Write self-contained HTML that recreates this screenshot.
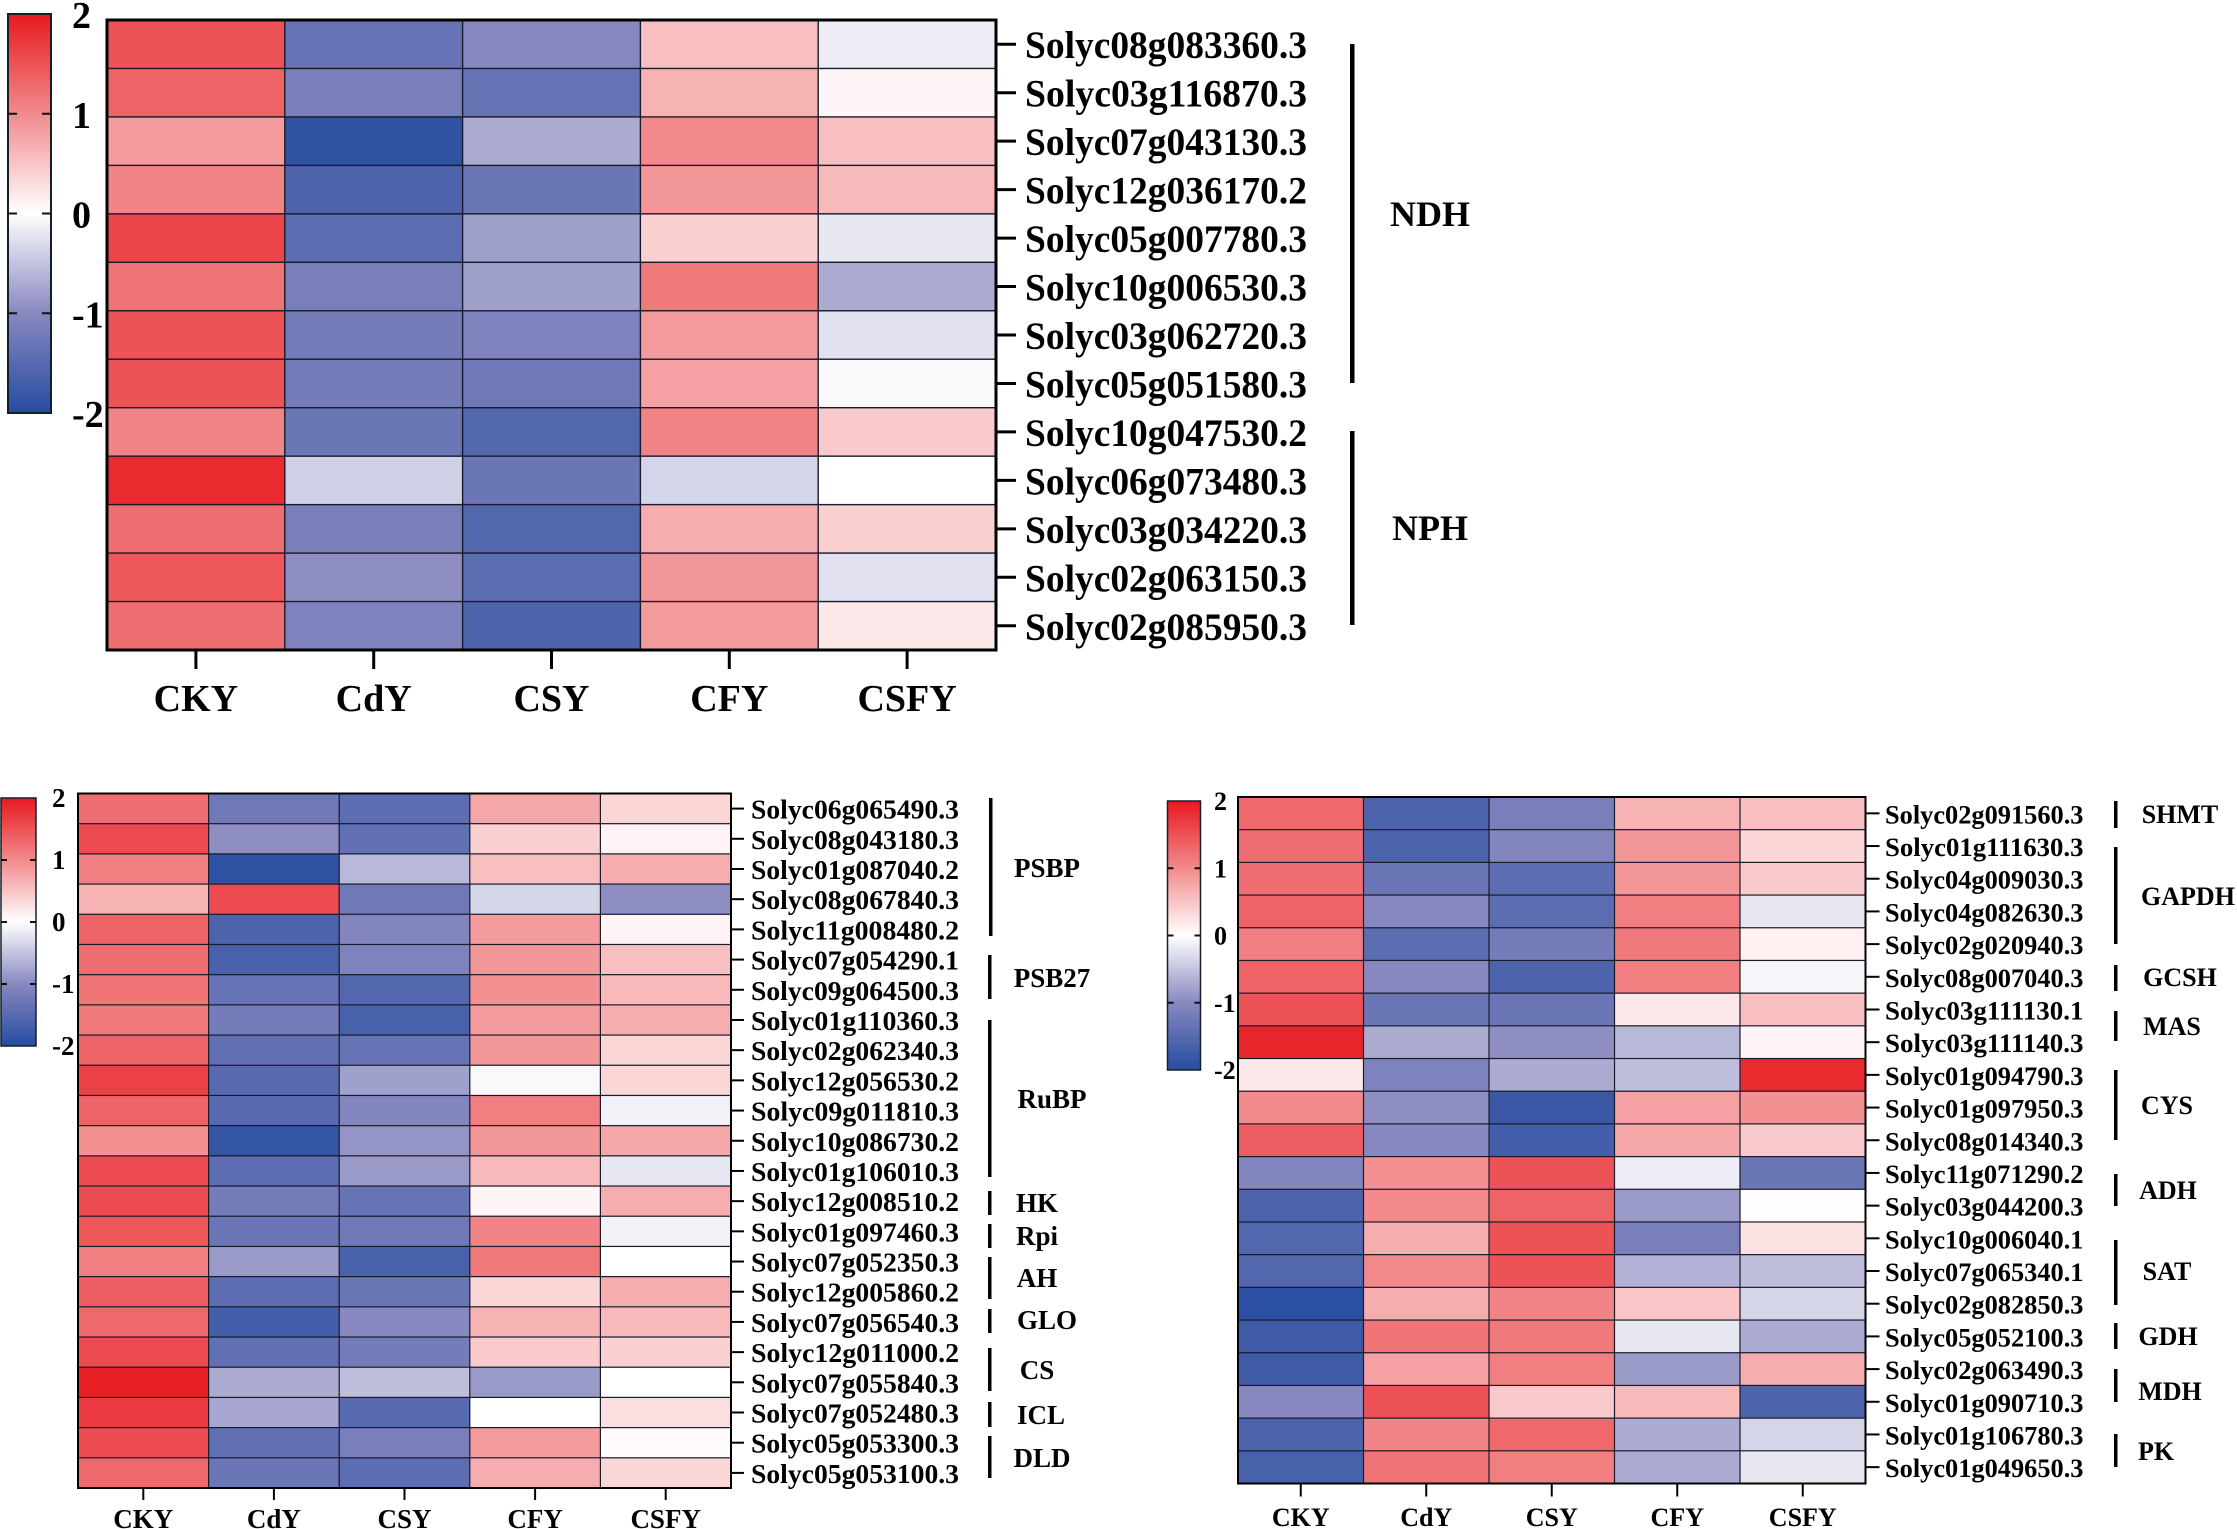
<!DOCTYPE html>
<html lang="en">
<head>
<meta charset="utf-8">
<title>Gene expression heatmaps</title>
<style>
html,body{margin:0;padding:0;background:#fff;}
svg{display:block;}
text{font-family:"Liberation Serif",serif;font-weight:bold;fill:#000;}
</style>
</head>
<body>
<svg id="figure" xmlns="http://www.w3.org/2000/svg" width="2237" height="1529" viewBox="0 0 2237 1529">
  <rect x="0" y="0" width="2237" height="1529" fill="#fff"/>
  <defs id="defs"></defs>

  <g fill="#000">
    <rect x="1350" y="44" width="4.5" height="339"/>
    <rect x="1350" y="431" width="4.5" height="194"/>
    <text x="1430" y="226" font-size="36" text-anchor="middle">NDH</text>
    <text x="1430" y="540" font-size="36" text-anchor="middle">NPH</text>
  </g>

  <g fill="#000" font-size="27">
    <rect x="989" y="798" width="3.5" height="138"/>
    <rect x="988" y="955" width="3.5" height="44"/>
    <rect x="988" y="1020" width="3.5" height="157"/>
    <rect x="988" y="1191" width="3.5" height="24"/>
    <rect x="988" y="1224" width="3.5" height="24"/>
    <rect x="988" y="1257" width="3.5" height="42"/>
    <rect x="988" y="1309" width="3.5" height="24"/>
    <rect x="988" y="1348" width="3.5" height="43"/>
    <rect x="988" y="1402" width="3.5" height="25"/>
    <rect x="988" y="1436" width="3.5" height="42"/>
    <text x="1047" y="877" font-size="27" text-anchor="middle">PSBP</text>
    <text x="1052" y="987" font-size="27" text-anchor="middle">PSB27</text>
    <text x="1052" y="1108" font-size="27" text-anchor="middle">RuBP</text>
    <text x="1037" y="1212" font-size="27" text-anchor="middle">HK</text>
    <text x="1037" y="1245" font-size="27" text-anchor="middle">Rpi</text>
    <text x="1037" y="1287" font-size="27" text-anchor="middle">AH</text>
    <text x="1047" y="1329" font-size="27" text-anchor="middle">GLO</text>
    <text x="1037" y="1379" font-size="27" text-anchor="middle">CS</text>
    <text x="1041" y="1424" font-size="27" text-anchor="middle">ICL</text>
    <text x="1042" y="1467" font-size="27" text-anchor="middle">DLD</text>
  </g>

  <g fill="#000">
    <rect x="2114" y="801" width="3.5" height="27"/>
    <rect x="2114" y="847" width="3.5" height="97"/>
    <rect x="2114" y="965" width="3.5" height="26"/>
    <rect x="2114" y="1011" width="3.5" height="30"/>
    <rect x="2114" y="1070" width="3.5" height="70"/>
    <rect x="2114" y="1174" width="3.5" height="32"/>
    <rect x="2114" y="1240" width="3.5" height="65"/>
    <rect x="2114" y="1323" width="3.5" height="26"/>
    <rect x="2114" y="1369" width="3.5" height="33"/>
    <rect x="2114" y="1434" width="3.5" height="33"/>
    <text x="2180" y="823" font-size="26" text-anchor="middle">SHMT</text>
    <text x="2188" y="905" font-size="26" text-anchor="middle">GAPDH</text>
    <text x="2180" y="986" font-size="26" text-anchor="middle">GCSH</text>
    <text x="2172" y="1035" font-size="26" text-anchor="middle">MAS</text>
    <text x="2167" y="1114" font-size="26" text-anchor="middle">CYS</text>
    <text x="2168" y="1199" font-size="26" text-anchor="middle">ADH</text>
    <text x="2167" y="1280" font-size="26" text-anchor="middle">SAT</text>
    <text x="2168" y="1345" font-size="26" text-anchor="middle">GDH</text>
    <text x="2170" y="1400" font-size="26" text-anchor="middle">MDH</text>
    <text x="2156" y="1460" font-size="26" text-anchor="middle">PK</text>
  </g>
</svg>
<script>
var categories = ["CKY", "CdY", "CSY", "CFY", "CSFY"];
var colorbarTicks = [2, 1, 0, -1, -2];

var topGenes = ["Solyc08g083360.3","Solyc03g116870.3","Solyc07g043130.3","Solyc12g036170.2","Solyc05g007780.3","Solyc10g006530.3","Solyc03g062720.3","Solyc05g051580.3","Solyc10g047530.2","Solyc06g073480.3","Solyc03g034220.3","Solyc02g063150.3","Solyc02g085950.3"];
var topValues = [
[1.5,-1.35,-1,0.55,-0.15],
[1.35,-1.15,-1.35,0.65,0.08],
[0.85,-1.9,-0.7,1,0.55],
[1.05,-1.6,-1.3,0.9,0.6],
[1.6,-1.45,-0.8,0.4,-0.2],
[1.2,-1.15,-0.8,1.15,-0.7],
[1.5,-1.2,-1.1,0.85,-0.25],
[1.5,-1.2,-1.25,0.8,-0.05],
[1.05,-1.3,-1.55,1.05,0.45],
[1.85,-0.4,-1.3,-0.35,0],
[1.25,-1.15,-1.55,0.7,0.4],
[1.45,-0.95,-1.45,0.9,-0.25],
[1.25,-1.1,-1.6,0.85,0.2]
];

var leftGenes = ["Solyc06g065490.3","Solyc08g043180.3","Solyc01g087040.2","Solyc08g067840.3","Solyc11g008480.2","Solyc07g054290.1","Solyc09g064500.3","Solyc01g110360.3","Solyc02g062340.3","Solyc12g056530.2","Solyc09g011810.3","Solyc10g086730.2","Solyc01g106010.3","Solyc12g008510.2","Solyc01g097460.3","Solyc07g052350.3","Solyc12g005860.2","Solyc07g056540.3","Solyc12g011000.2","Solyc07g055840.3","Solyc07g052480.3","Solyc05g053300.3","Solyc05g053100.3"];
var leftValues = [
[1.25,-1.25,-1.45,0.75,0.35],
[1.55,-0.95,-1.4,0.4,0.1],
[1.1,-1.9,-0.6,0.55,0.7],
[0.65,1.55,-1.25,-0.35,-0.95],
[1.35,-1.6,-1.05,0.85,0.1],
[1.25,-1.65,-1.1,0.9,0.55],
[1.2,-1.35,-1.55,0.95,0.6],
[1.15,-1.2,-1.65,0.85,0.7],
[1.35,-1.4,-1.35,0.9,0.35],
[1.65,-1.5,-0.8,-0.05,0.35],
[1.35,-1.5,-1.05,1.1,-0.12],
[0.95,-1.85,-0.9,0.9,0.75],
[1.55,-1.45,-0.85,0.6,-0.2],
[1.55,-1.2,-1.35,0.08,0.7],
[1.45,-1.3,-1.25,1.05,-0.12],
[1.1,-0.85,-1.65,1.15,0],
[1.4,-1.45,-1.3,0.35,0.7],
[1.3,-1.7,-1,0.65,0.6],
[1.55,-1.4,-1.2,0.45,0.4],
[1.95,-0.7,-0.55,-0.85,0],
[1.7,-0.75,-1.5,0,0.28],
[1.55,-1.4,-1.15,0.85,0.03],
[1.3,-1.3,-1.45,0.7,0.35]
];

var rightGenes = ["Solyc02g091560.3","Solyc01g111630.3","Solyc04g009030.3","Solyc04g082630.3","Solyc02g020940.3","Solyc08g007040.3","Solyc03g111130.1","Solyc03g111140.3","Solyc01g094790.3","Solyc01g097950.3","Solyc08g014340.3","Solyc11g071290.2","Solyc03g044200.3","Solyc10g006040.1","Solyc07g065340.1","Solyc02g082850.3","Solyc05g052100.3","Solyc02g063490.3","Solyc01g090710.3","Solyc01g106780.3","Solyc01g049650.3"];
var rightValues = [
[1.3,-1.6,-1.15,0.65,0.55],
[1.25,-1.6,-1.05,0.9,0.35],
[1.25,-1.3,-1.45,0.9,0.45],
[1.35,-1,-1.45,1.1,-0.2],
[1.1,-1.45,-1.2,1.15,0.12],
[1.35,-1,-1.6,1.1,-0.08],
[1.5,-1.3,-1.3,0.2,0.55],
[1.9,-0.7,-0.95,-0.6,0.08],
[0.2,-1.1,-0.7,-0.55,1.85],
[1,-0.95,-1.8,0.8,0.95],
[1.4,-1,-1.7,0.75,0.45],
[-1.05,0.95,1.5,-0.15,-1.3],
[-1.6,1,1.35,-0.85,0.02],
[-1.55,0.7,1.5,-1.15,0.25],
[-1.55,1,1.5,-0.65,-0.55],
[-1.95,0.7,1.05,0.5,-0.35],
[-1.75,1.2,1.15,-0.2,-0.7],
[-1.75,0.8,1.1,-0.85,0.7],
[-1,1.5,0.45,0.6,-1.6],
[-1.6,1.05,1.3,-0.7,-0.35],
[-1.65,1.2,1.1,-0.7,-0.2]
];

var SVG_NS = "http://www.w3.org/2000/svg";
var figure = document.getElementById("figure");
var defs = document.getElementById("defs");

function shape(parent, tag, props, text) {
  var node = document.createElementNS(SVG_NS, tag);
  for (var k in props) node.setAttribute(k, props[k]);
  if (text !== undefined) node.textContent = text;
  parent.appendChild(node);
  return node;
}

function mix(a, b, t) { return Math.round(a + (b - a) * t); }

function colorFor(v) {
  var white = [255, 255, 255], posMid = [242, 138, 140], posEnd = [231, 26, 32], negMid = [136, 136, 192], negEnd = [38, 76, 160];
  var x = Math.max(-2, Math.min(2, v));
  var a = Math.abs(x);
  var from = a <= 1 ? white : (x > 0 ? posMid : negMid);
  var to = a <= 1 ? (x > 0 ? posMid : negMid) : (x > 0 ? posEnd : negEnd);
  var t = a <= 1 ? a : a - 1;
  return "rgb(" + mix(from[0], to[0], t) + "," + mix(from[1], to[1], t) + "," + mix(from[2], to[2], t) + ")";
}

function drawPanel(cfg, genes, values) {
  var g = shape(figure, "g", {});
  
  

  var colWidth = (cfg.right - cfg.left) / categories.length;
  var rowHeight = (cfg.bottom - cfg.top) / genes.length;
  function xScale(c) { return cfg.left + c * colWidth; }
  function yScale(r) { return cfg.top + r * rowHeight; }

  values.forEach(function (row, r) {
    row.forEach(function (v, c) {
      var cell = shape(g, "rect", {x: xScale(c), y: yScale(r), width: colWidth + 0.3, height: rowHeight + 0.3, fill: colorFor(v), stroke: "#1a1a2a", "stroke-width": cfg.grid});
      
      
    });
  });

  var frame = shape(g, "rect", {x: cfg.left, y: cfg.top, width: cfg.right - cfg.left, height: cfg.bottom - cfg.top, fill: "none", stroke: "#000", "stroke-width": cfg.frame});
  
  

  genes.forEach(function (gene, r) {
    var yc = yScale(r + 0.5);
    var tick = shape(g, "line", {x1: cfg.right, x2: cfg.right + cfg.tickLen, y1: yc, y2: yc, stroke: "#000", "stroke-width": cfg.tickW});
    
    
    var label = shape(g, "text", {x: cfg.labelX, y: yc + cfg.labelDy, "font-size": cfg.labelSize, textLength: cfg.labelLen, lengthAdjust: "spacingAndGlyphs"}, gene);
    
    
  });

  categories.forEach(function (cat, c) {
    var xc = xScale(c + 0.5);
    var tick = shape(g, "line", {x1: xc, x2: xc, y1: cfg.bottom, y2: cfg.bottom + cfg.xTickLen, stroke: "#000", "stroke-width": cfg.tickW});
    
    
    var label = shape(g, "text", {x: xc, y: cfg.catY, "font-size": cfg.catSize, "text-anchor": "middle"}, cat);
    
    
  });

  var gradId = cfg.name + "-gradient";
  var grad = shape(defs, "linearGradient", {id: gradId, x1: 0, y1: 0, x2: 0, y2: 1});
  colorbarTicks.forEach(function (v, i) {
    shape(grad, "stop", {offset: (i / (colorbarTicks.length - 1)), "stop-color": colorFor(v)});
  });

  function barY(v) { return cfg.barTop + (2 - v) / 4 * (cfg.barBottom - cfg.barTop); }

  var bar = shape(g, "rect", {x: cfg.barLeft, y: cfg.barTop, width: cfg.barRight - cfg.barLeft, height: cfg.barBottom - cfg.barTop, fill: "url(#" + gradId + ")", stroke: "#12202a", "stroke-width": cfg.barStroke});
  
  

  colorbarTicks.forEach(function (v) {
    var y = barY(v);
    if (Math.abs(v) < 2) {
      var left = shape(g, "line", {x1: cfg.barLeft, x2: cfg.barLeft + cfg.barTick, y1: y, y2: y, stroke: "#111", "stroke-width": 2});
      
      
      var right = shape(g, "line", {x1: cfg.barRight - cfg.barTick, x2: cfg.barRight, y1: y, y2: y, stroke: "#111", "stroke-width": 2});
      
      
    }
    var label = shape(g, "text", {x: cfg.barLabelX, y: y + cfg.barLabelDy, "font-size": cfg.barLabelSize}, String(v));
    
    
  });
}

drawPanel({name: "top", left: 107, right: 996, top: 20, bottom: 650, grid: 1.4, frame: 3, tickLen: 20, xTickLen: 19, tickW: 3,
  labelX: 1025, labelLen: 282, labelSize: 39, labelDy: 14, catY: 711, catSize: 38,
  barLeft: 8, barRight: 51, barTop: 14, barBottom: 413, barStroke: 2, barTick: 9, barLabelX: 72, barLabelDy: 14, barLabelSize: 38
}, topGenes, topValues);

drawPanel({name: "left", left: 78, right: 731, top: 793.5, bottom: 1488, grid: 1.2, frame: 2, tickLen: 13, xTickLen: 12, tickW: 2,
  labelX: 751, labelLen: 208, labelSize: 27.5, labelDy: 10, catY: 1528, catSize: 27,
  barLeft: 1, barRight: 36, barTop: 798, barBottom: 1046, barStroke: 1.5, barTick: 6, barLabelX: 52, barLabelDy: 9, barLabelSize: 27
}, leftGenes, leftValues);

drawPanel({name: "right", left: 1238, right: 1865.5, top: 797, bottom: 1483.5, grid: 1.2, frame: 2, tickLen: 14, xTickLen: 13, tickW: 2,
  labelX: 1885, labelLen: 198.5, labelSize: 26.5, labelDy: 10, catY: 1526, catSize: 26,
  barLeft: 1167.5, barRight: 1200.5, barTop: 801, barBottom: 1070, barStroke: 1.5, barTick: 6, barLabelX: 1214, barLabelDy: 9, barLabelSize: 26
}, rightGenes, rightValues);
</script>
</body>
</html>
